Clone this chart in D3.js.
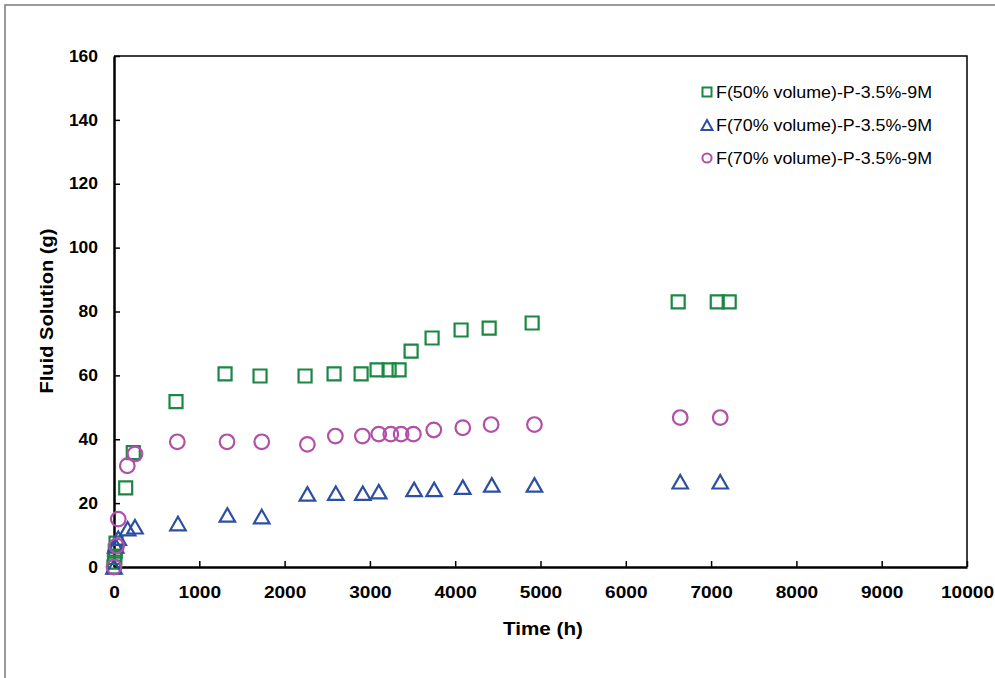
<!DOCTYPE html>
<html><head><meta charset="utf-8">
<script src="https://cdn.jsdelivr.net/npm/d3@7"></script>
<style>body{margin:0;background:#fff}svg{display:block}text{font-family:Arial,"Liberation Sans",sans-serif}</style>
</head><body><svg id="c" width="995" height="678"></svg>
<script>
const xTicks = [0,1000,2000,3000,4000,5000,6000,7000,8000,9000,10000];
const yTicks = [0,20,40,60,80,100,120,140,160];
const seriesNames = ["F(50% volume)-P-3.5%-9M","F(70% volume)-P-3.5%-9M","F(70% volume)-P-3.5%-9M"];
const timeSq = [0,5,10,15,24,137,226,727,1302,1712,2240,2580,2897,3084,3225,3342,3483,3729,4069,4398,4902,6614,7072,7212];
const valSq  = [0,1.5,3,5,7.5,24.8,35.8,51.8,60.5,59.8,59.8,60.5,60.5,61.7,61.7,61.7,67.6,71.7,74.2,74.8,76.4,83,83,83];
const timeTri = [0,20,50,160,246,750,1329,1732,2267,2600,2917,3104,3518,3753,4089,4429,4929,6638,7107];
const valTri  = [0,6.6,9,12,12.6,13.6,16.3,15.8,22.9,23.1,23.1,23.6,24.3,24.3,25,25.7,25.7,26.7,26.7];
const timeCir = [0,31,50,156,246,742,1325,1732,2267,2595,2912,3104,3245,3366,3510,3749,4089,4421,4929,6638,7107];
const valCir  = [0,6.6,15,31.7,35.4,39.2,39.2,39.2,38.4,41,41,41.6,41.6,41.6,41.6,42.9,43.6,44.6,44.6,46.8,46.8];

const colors = ["#1b8743","#2c4ea3","#b24fa8"];
const svg = d3.select("#c");
const L=114,R=967,T=56,B=567;
const x = d3.scaleLinear().domain([0,10000]).range([L,R]);
const y = d3.scaleLinear().domain([0,160]).range([B,T]);

// outer frame
svg.append("path").attr("d","M5,678 L5,5 L995,5").attr("fill","none").attr("stroke","#7a7a7a").attr("stroke-width",1.5);

// plot box top/right
svg.append("path").attr("d",`M${L},${T} L${R},${T} L${R},${B}`).attr("fill","none").attr("stroke","#000").attr("stroke-width",1.5);

const gx = svg.append("g").attr("transform",`translate(0,${B})`)
  .call(d3.axisBottom(x).tickValues(xTicks).tickSizeInner(-6).tickSizeOuter(0).tickPadding(22).tickFormat(d3.format("d")));
const gy = svg.append("g").attr("transform",`translate(${L},0)`)
  .call(d3.axisLeft(y).tickValues(yTicks).tickSizeInner(-6).tickSizeOuter(0).tickPadding(16).tickFormat(d3.format("d")));
[gx,gy].forEach(g=>{
  g.select(".domain").attr("stroke","#000").attr("stroke-width",2.5);
  g.selectAll(".tick line").attr("stroke","#000").attr("stroke-width",1.5);
  g.selectAll("text").attr("fill","#000").attr("font-weight","bold");
});
gx.selectAll("text").attr("font-size",17).attr("dy","0.5em")
  .attr("textLength",d=>String(d).length*10.6).attr("lengthAdjust","spacingAndGlyphs");
gy.selectAll("text").attr("font-size",16)
  .attr("textLength",d=>String(d).length*9.7).attr("lengthAdjust","spacingAndGlyphs");

svg.append("text").attr("x",543).attr("y",635).attr("text-anchor","middle")
  .attr("font-size",17.5).attr("font-weight","bold").attr("textLength",80).attr("lengthAdjust","spacingAndGlyphs").text("Time (h)");
svg.append("text").attr("transform","translate(53,311) rotate(-90)").attr("text-anchor","middle")
  .attr("font-size",18).attr("font-weight","bold").attr("textLength",165).attr("lengthAdjust","spacingAndGlyphs").text("Fluid Solution (g)");

const sqSym = s=>`M${-s/2},${-s/2}h${s}v${s}h${-s}Z`;
const triSym = (w,h)=>`M0,${-h/2}L${w/2},${h/2}L${-w/2},${h/2}Z`;
const cirSym = r=>`M${r},0A${r},${r} 0 1,1 ${-r},0A${r},${r} 0 1,1 ${r},0Z`;

const series = [
  {t:timeSq,v:valSq,sym:sqSym(13),c:colors[0]},
  {t:timeTri,v:valTri,sym:triSym(15.5,13.5),c:colors[1]},
  {t:timeCir,v:valCir,sym:cirSym(7.3),c:colors[2]}
];
series.forEach(s=>{
  svg.append("g").selectAll("path").data(s.t.map((t,i)=>[t,s.v[i]])).join("path")
    .attr("d",s.sym).attr("transform",d=>`translate(${x(d[0])},${y(d[1])})`)
    .attr("fill","none").attr("stroke",s.c).attr("stroke-width",2.2);
});

// legend
const legSyms=[sqSym(9),triSym(11,10),cirSym(4.6)];
const legY=[92,125,158];
seriesNames.forEach((n,i)=>{
  svg.append("path").attr("d",legSyms[i]).attr("transform",`translate(707,${legY[i]})`)
    .attr("fill","none").attr("stroke",colors[i]).attr("stroke-width",2);
  svg.append("text").attr("x",716).attr("y",legY[i]+6).attr("font-size",16).attr("fill","#000")
    .attr("textLength",216).attr("lengthAdjust","spacingAndGlyphs").text(n);
});
</script></body></html>
